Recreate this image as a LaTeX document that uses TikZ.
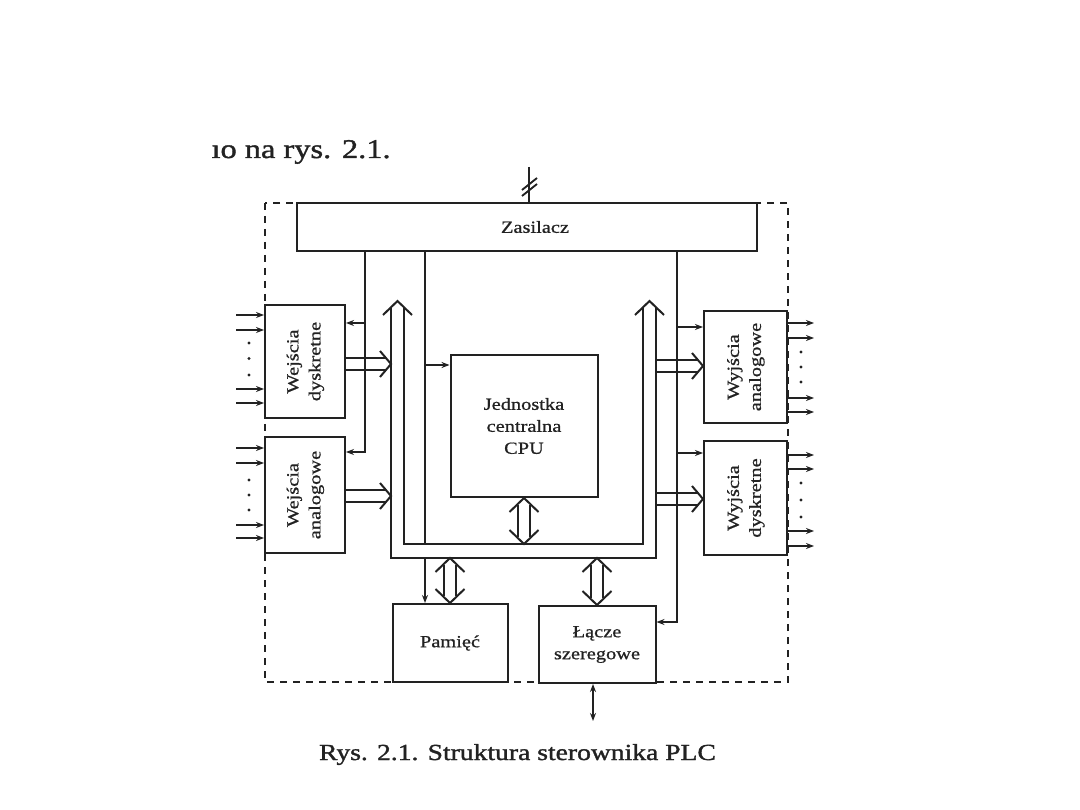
\documentclass[tikz,border=0pt]{standalone}
\usepackage{fontspec}
\setmainfont{Liberation Serif}[FakeStretch=1.2, FakeBold=0.8]
\newfontfamily\skan{Liberation Serif}[FakeStretch=1.2, FakeBold=1.4]
\usepackage{graphicx}
\definecolor{ink}{HTML}{222222}
\usetikzlibrary{arrows.meta, calc}
\tikzset{
    blok/.style={draw=ink, line width=2pt, fill=white, inner sep=0pt,
                 align=center, text=ink, font=\fontsize{17}{22}\selectfont},
    bus/.style={draw=ink, line width=2pt, line join=miter},
    fat/.style={draw=ink, line width=2pt},
    wire/.style={draw=ink, line width=1.8pt},
    sig/.style={wire, -{Stealth[length=8pt,width=6pt]}},
    dsig/.style={wire, {Stealth[length=8pt,width=6pt]}-{Stealth[length=8pt,width=6pt]}},
    ramka/.style={draw=ink, line width=1.9pt, dash pattern=on 7pt off 6pt},
}
% szeroka strzalka: ogon, grot
\newcommand{\fatarrow}[2]{%
  \coordinate (fh) at ($(#2)!11pt!(#1)$);
  \coordinate (fs) at ($(#2)!5.5pt!(#1)$);
  \draw[fat] ($(#1)!6pt!90:(#2)$) -- ($(fs)!6pt!-90:(#1)$);
  \draw[fat] ($(#1)!6pt!-90:(#2)$) -- ($(fs)!6pt!90:(#1)$);
  \draw[fat] ($(fh)!13pt!-90:(#1)$) -- (#2) -- ($(fh)!13pt!90:(#1)$);
}
% szeroka strzalka dwukierunkowa
\newcommand{\fatdarrow}[2]{%
  \coordinate (fh) at ($(#2)!14pt!(#1)$);
  \coordinate (ft) at ($(#1)!14pt!(#2)$);
  \coordinate (fs) at ($(#2)!7pt!(#1)$);
  \coordinate (fq) at ($(#1)!7pt!(#2)$);
  \draw[fat] ($(fq)!6pt!90:(#2)$) -- ($(fs)!6pt!-90:(#1)$);
  \draw[fat] ($(fq)!6pt!-90:(#2)$) -- ($(fs)!6pt!90:(#1)$);
  \draw[fat] ($(fh)!14.5pt!-90:(#1)$) -- (#2) -- ($(fh)!14.5pt!90:(#1)$);
  \draw[fat] ($(ft)!14.5pt!90:(#2)$) -- (#1) -- ($(ft)!14.5pt!-90:(#2)$);
}
\newcommand{\pion}[2]{\rotatebox{90}{\begin{tabular}{@{}c@{}}#1\\#2\end{tabular}}}

\begin{document}
\begin{tikzpicture}[x=1pt, y=-1pt]
    \fill[white] (0,0) rectangle (1080,810);
    \useasboundingbox (0,0) rectangle (1080,810);

    % obudowa sterownika
    \draw[ramka] (265,203) rectangle (788,682);

    % bloki
    \node[blok, minimum width=460pt, minimum height=48pt] (zas) at (527,227) {\hspace*{16pt}Zasilacz};
    \node[blok, minimum width=80pt, minimum height=113pt] (wd) at (305,361.5) {\pion{Wejścia}{dyskretne}};
    \node[blok, minimum width=80pt, minimum height=116pt] (wa) at (305,495) {\pion{Wejścia}{analogowe}};
    \node[blok, minimum width=147pt, minimum height=142pt] (cpu) at (524,426) {Jednostka\\centralna\\CPU};
    \node[blok, minimum width=83pt, minimum height=112pt] (wya) at (745.5,367) {\pion{Wyjścia}{analogowe}};
    \node[blok, minimum width=83pt, minimum height=114pt] (wyd) at (745.5,498) {\pion{Wyjścia}{dyskretne}};
    \node[blok, minimum width=115pt, minimum height=78pt] (pam) at (450,643) {Pamięć};
    \node[blok, minimum width=117pt, minimum height=77pt] (lac) at (597,644.5) {Łącze\\szeregowe};

    % magistrala
    \coordinate (busLo) at (391,558);
    \coordinate (busRo) at (656,558);
    \coordinate (busLi) at (404,544);
    \coordinate (busRi) at (643,544);
    \coordinate (busLtop) at (397.5,301);
    \coordinate (busRtop) at (649.5,301);
    \draw[bus] ($(busLtop)+(-14.5,14)$) -- (busLtop) -- ($(busLtop)+(14.5,14)$);
    \draw[bus] ($(busRtop)+(-14.5,14)$) -- (busRtop) -- ($(busRtop)+(14.5,14)$);
    \draw[bus] ($(busLtop)+(-6.5,6.3)$) |- (busRo) -- ($(busRtop)+(6.5,6.3)$);
    \draw[bus] ($(busLtop)+(6.5,6.3)$) |- (busRi) -- ($(busRtop)+(-6.5,6.3)$);

    % zasilanie
    \coordinate (zasin) at ([xshift=2pt]zas.north);
    \coordinate (siec) at ([yshift=35pt]zasin);
    \draw[wire] (siec) -- (zasin);
    \draw[wire] ($(siec)+(-7,23)$) -- ($(siec)+(8,11)$);
    \draw[wire] ($(siec)+(-7,29)$) -- ($(siec)+(8,17)$);

    \coordinate (p1) at ([xshift=69pt]zas.south west);
    \coordinate (p2) at ([xshift=129pt]zas.south west);
    \coordinate (p3) at ([xshift=-81pt]zas.south east);
    \coordinate (wdin) at ([yshift=38.5pt]wd.east);
    \coordinate (wain) at ([yshift=43pt]wa.east);
    \coordinate (cpuin) at ([yshift=61pt]cpu.west);
    \coordinate (wyain) at ([yshift=40pt]wya.west);
    \coordinate (wydin) at ([yshift=45pt]wyd.west);
    \coordinate (lacin) at ([yshift=22.5pt]lac.east);
    \draw[sig] (p1) |- (wdin);
    \draw[sig] (p1) |- (wain);
    \draw[sig] (p2) |- (cpuin);
    \draw[wire] (p2) -- (p2 |- busRi);
    \draw[sig] (p2 |- busLo) -- (p2 |- pam.north);
    \draw[sig] (p3) |- (wyain);
    \draw[sig] (p3) |- (wydin);
    \draw[sig] (p3) |- (lacin);

    % wymiana danych z magistrala
    \coordinate (wdout) at ([yshift=-2.5pt]wd.east);
    \coordinate (wdbus) at (wdout -| busLo);
    \coordinate (waout) at ([yshift=-1pt]wa.east);
    \coordinate (wabus) at (waout -| busLo);
    \coordinate (wyaend) at ([yshift=1pt]wya.west);
    \coordinate (wyabus) at (wyaend -| busRo);
    \coordinate (wydend) at ([yshift=-1pt]wyd.west);
    \coordinate (wydbus) at (wydend -| busRo);
    \coordinate (cpubus) at (cpu.south |- busRi);
    \coordinate (pambus) at (pam.north |- busLo);
    \coordinate (lacbus) at (lac.north |- busLo);
    \fatarrow{wdout}{wdbus}
    \fatarrow{waout}{wabus}
    \fatarrow{wyabus}{wyaend}
    \fatarrow{wydbus}{wydend}
    \fatdarrow{cpu.south}{cpubus}
    \fatdarrow{pambus}{pam.north}
    \fatdarrow{lacbus}{lac.north}

    % wejscia i wyjscia obiektowe
    \foreach \dy in {46.5,31.5,-27.5,-41.5}
        \draw[sig] ([xshift=-28pt,yshift=\dy pt]wd.west) -- ([yshift=\dy pt]wd.west);
    \foreach \dy in {18.5,3,-13.5}
        \fill[ink] ([xshift=-15pt,yshift=\dy pt]wd.west) circle[radius=1.6pt];
    \foreach \dy in {47,32,-30,-43}
        \draw[sig] ([xshift=-28pt,yshift=\dy pt]wa.west) -- ([yshift=\dy pt]wa.west);
    \foreach \dy in {15,0,-15}
        \fill[ink] ([xshift=-15pt,yshift=\dy pt]wa.west) circle[radius=1.6pt];
    \foreach \dy in {44,29,-31,-45}
        \draw[sig] ([yshift=\dy pt]wya.east) -- ([xshift=26pt,yshift=\dy pt]wya.east);
    \foreach \dy in {15,0,-15}
        \fill[ink] ([xshift=13pt,yshift=\dy pt]wya.east) circle[radius=1.6pt];
    \foreach \dy in {43,29,-33,-48}
        \draw[sig] ([yshift=\dy pt]wyd.east) -- ([xshift=26pt,yshift=\dy pt]wyd.east);
    \foreach \dy in {15,-2,-19}
        \fill[ink] ([xshift=13pt,yshift=\dy pt]wyd.east) circle[radius=1.6pt];

    % lacze zewnetrzne
    \coordinate (lacout) at ([xshift=-4pt]lac.south);
    \coordinate (ext) at ([yshift=-37pt]lacout);
    \draw[dsig] (lacout) -- (ext);

    % teksty
    \node[anchor=base west, text=ink, font=\skan\fontsize{27}{30}\selectfont] (naglowek) at (208,158) {ıo na rys. 2.1.};
    \node[anchor=base, text=ink, font=\skan\fontsize{23}{26}\selectfont] (podpis) at (517.5,760) {Rys. 2.1. Struktura sterownika PLC};
\end{tikzpicture}
\end{document}
